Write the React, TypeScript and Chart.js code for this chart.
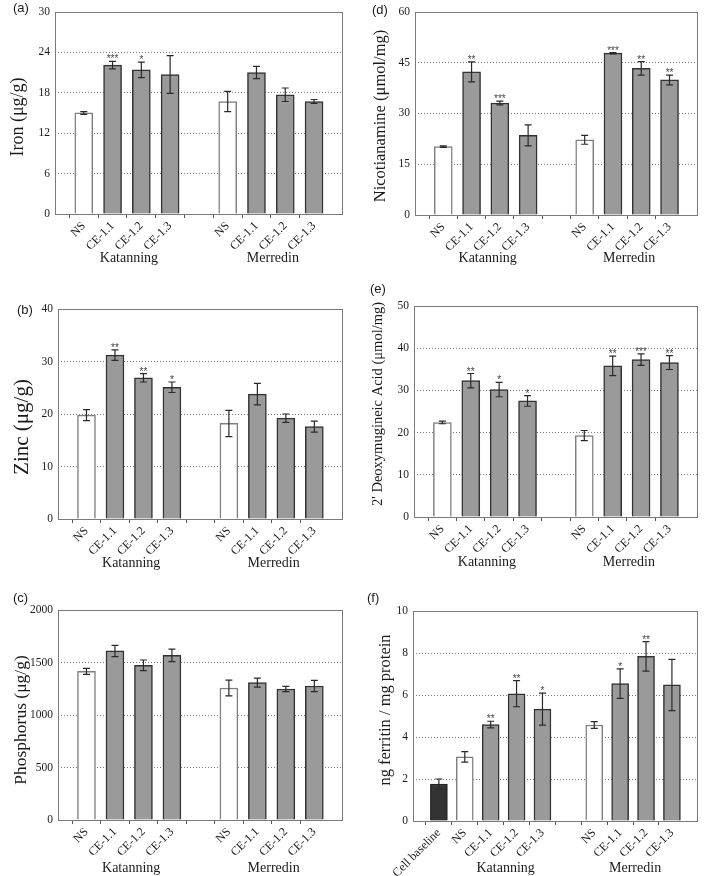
import React, { useEffect, useRef } from "react";
import { Chart, registerables } from "chart.js";

Chart.register(...registerables);

// ---------- data ----------
const treatments = ["NS", "CE-1.1", "CE-1.2", "CE-1.3"];
const sites = ["Katanning", "Merredin"];

const ironMeans = [15.0, 22.1, 21.4, 20.7, 16.7, 21.0, 17.7, 16.7];
const ironErrors = [0.2, 0.55, 1.15, 2.8, 1.5, 0.9, 1.0, 0.3];
const ironStars = ["", "***", "*", "", "", "", "", ""];

const zincMeans = [19.8, 31.2, 26.9, 25.1, 18.2, 23.8, 19.2, 17.6];
const zincErrors = [1.05, 1.0, 0.8, 1.0, 2.5, 2.05, 0.8, 1.05];
const zincStars = ["", "**", "**", "*", "", "", "", ""];

const phosMeans = [1416, 1610, 1473, 1568, 1257, 1308, 1248, 1276];
const phosErrors = [29, 54, 51, 60, 75, 43, 25, 54];
const phosStars = ["", "", "", "", "", "", "", ""];

const naMeans = [20.2, 42.3, 33.1, 23.5, 22.2, 47.8, 43.3, 39.9];
const naErrors = [0.25, 2.95, 0.55, 3.1, 1.3, 0.2, 2.0, 1.45];
const naStars = ["", "**", "***", "", "", "***", "**", "**"];

const dmaMeans = [22.4, 32.3, 30.2, 27.5, 19.3, 35.8, 37.3, 36.6];
const dmaErrors = [0.3, 1.7, 1.7, 1.25, 1.2, 2.3, 1.35, 1.65];
const dmaStars = ["", "**", "*", "*", "", "**", "***", "**"];

const ferritinBaselineLabel = "Cell baseline";
const ferritinBaselineMean = 1.76;
const ferritinBaselineError = 0.24;
const ferritinMeans = [3.05, 4.59, 6.06, 5.33, 4.57, 6.54, 7.84, 6.48];
const ferritinErrors = [0.25, 0.16, 0.62, 0.76, 0.16, 0.7, 0.7, 1.22];
const ferritinStars = ["", "**", "**", "*", "", "*", "**", ""];

// ---------- styling ----------
const SERIF = "'Liberation Serif', 'Times New Roman', serif";
const SANS = "'Liberation Sans', Arial, sans-serif";
const WHITE_FILL = "#ffffff";
const WHITE_EDGE = "#808080";
const GREY_FILL = "#9a9a9a";
const GREY_EDGE = "#333333";
const DARK_FILL = "#333333";
const DARK_EDGE = "#222222";

type PanelCfg = {
  letter: string;
  letterX: number;
  letterY: number;
  left: number;
  top: number;
  width: number;
  height: number;
  padTop: number;
  padRight: number;
  yWidth: number;
  xHeight: number;
  title: string;
  titleSize: number;
  titleX: number;
  titleY: number;
  yMax: number;
  yStep: number;
  means: number[];
  errors: number[];
  stars: string[];
  baseline?: { label: string; mean: number; error: number };
  groupDy: number;
  barW: number;
};

const panels: PanelCfg[] = [
  {
    letter: "(a)", letterX: 13, letterY: 1,
    left: 0, top: 0, width: 354, height: 290,
    padTop: 4, padRight: 4, yWidth: 55, xHeight: 76,
    title: "Iron (μg/g)", titleSize: 18, titleX: 18, titleY: 117,
    yMax: 30, yStep: 6,
    means: ironMeans, errors: ironErrors, stars: ironStars,
    groupDy: 44, barW: 18,
  },
  {
    letter: "(d)", letterX: 372, letterY: 3,
    left: 354, top: 0, width: 355, height: 290,
    padTop: 5, padRight: 2, yWidth: 61, xHeight: 75,
    title: "Nicotianamine (μmol/mg)", titleSize: 16.5, titleX: 27, titleY: 116,
    yMax: 60, yStep: 15,
    means: naMeans, errors: naErrors, stars: naStars,
    groupDy: 43, barW: 18,
  },
  {
    letter: "(b)", letterX: 17, letterY: 303,
    left: 0, top: 290, width: 354, height: 290,
    padTop: 19, padRight: 4, yWidth: 58, xHeight: 61,
    title: "Zinc (μg/g)", titleSize: 21, titleX: 22, titleY: 137,
    yMax: 40, yStep: 10,
    means: zincMeans, errors: zincErrors, stars: zincStars,
    groupDy: 44, barW: 18,
  },
  {
    letter: "(e)", letterX: 370, letterY: 282,
    left: 354, top: 290, width: 355, height: 290,
    padTop: 16, padRight: 2, yWidth: 60, xHeight: 63,
    title: "2' Deoxymugineic Acid (μmol/mg)", titleSize: 14.5, titleX: 24, titleY: 114,
    yMax: 50, yStep: 10,
    means: dmaMeans, errors: dmaErrors, stars: dmaStars,
    groupDy: 45, barW: 18,
  },
  {
    letter: "(c)", letterX: 13, letterY: 591,
    left: 0, top: 580, width: 354, height: 296,
    padTop: 30, padRight: 4, yWidth: 58, xHeight: 56,
    title: "Phosphorus (μg/g)", titleSize: 17.5, titleX: 21, titleY: 140,
    yMax: 2000, yStep: 500,
    means: phosMeans, errors: phosErrors, stars: phosStars,
    groupDy: 48, barW: 18,
  },
  {
    letter: "(f)", letterX: 367, letterY: 591,
    left: 354, top: 580, width: 355, height: 296,
    padTop: 31, padRight: 3, yWidth: 59, xHeight: 55,
    title: "ng ferritin / mg protein", titleSize: 16.5, titleX: 32, titleY: 130,
    yMax: 10, yStep: 2,
    means: ferritinMeans, errors: ferritinErrors, stars: ferritinStars,
    baseline: { label: ferritinBaselineLabel, mean: ferritinBaselineMean, error: ferritinBaselineError },
    groupDy: 47, barW: 17,
  },
];

function Panel({ cfg }: { cfg: PanelCfg }) {
  const ref = useRef<HTMLCanvasElement | null>(null);

  useEffect(() => {
    const canvas = ref.current;
    if (!canvas) return;

    // Build slot layout: blank, [baseline], group1, blank, group2, blank
    const labels: string[] = [""];
    const values: (number | null)[] = [null];
    const errs: number[] = [0];
    const stars: string[] = [""];
    const fills: string[] = ["transparent"];
    const edges: string[] = ["transparent"];
    if (cfg.baseline) {
      labels.push(cfg.baseline.label);
      values.push(cfg.baseline.mean);
      errs.push(cfg.baseline.error);
      stars.push("");
      fills.push(DARK_FILL);
      edges.push(DARK_EDGE);
    }
    const groupRanges: [number, number][] = [];
    sites.forEach((site, g) => {
      const start = labels.length;
      treatments.forEach((t, k) => {
        const idx = g * treatments.length + k;
        labels.push(t);
        values.push(cfg.means[idx]);
        errs.push(cfg.errors[idx]);
        stars.push(cfg.stars[idx]);
        const isNS = k === 0;
        fills.push(isNS ? WHITE_FILL : GREY_FILL);
        edges.push(isNS ? WHITE_EDGE : GREY_EDGE);
      });
      groupRanges.push([start, labels.length - 1]);
      labels.push("");
      values.push(null);
      errs.push(0);
      stars.push("");
      fills.push("transparent");
      edges.push("transparent");
    });
    const lastIdx = labels.length - 1;

    const overlay = {
      id: "overlay",
      afterDatasetsDraw(chart: any) {
        const { ctx, chartArea } = chart;
        const x = chart.scales.x;
        const y = chart.scales.y;
        ctx.save();
        // frame
        ctx.strokeStyle = "#7a7a7a";
        ctx.lineWidth = 1;
        ctx.setLineDash([]);
        ctx.strokeRect(
          Math.round(chartArea.left) + 0.5,
          Math.round(chartArea.top) + 0.5,
          Math.round(chartArea.width) - 1,
          Math.round(chartArea.height)
        );
        // error bars and significance
        values.forEach((v, i) => {
          if (v == null) return;
          const e = errs[i];
          const xp = x.getPixelForValue(i);
          const yt = y.getPixelForValue(v + e);
          const yb = y.getPixelForValue(v - e);
          ctx.strokeStyle = "#2a2a2a";
          ctx.lineWidth = 1.2;
          ctx.beginPath();
          ctx.moveTo(xp, yt);
          ctx.lineTo(xp, yb);
          ctx.moveTo(xp - 3.5, yt);
          ctx.lineTo(xp + 3.5, yt);
          ctx.moveTo(xp - 3.5, yb);
          ctx.lineTo(xp + 3.5, yb);
          ctx.stroke();
          if (stars[i]) {
            ctx.fillStyle = "#444";
            ctx.font = `10px ${SANS}`;
            ctx.textAlign = "center";
            ctx.textBaseline = "alphabetic";
            ctx.fillText(stars[i], xp, yt + 1);
          }
        });
        // group labels
        ctx.fillStyle = "#1a1a1a";
        ctx.font = `14px ${SERIF}`;
        ctx.textAlign = "center";
        ctx.textBaseline = "middle";
        groupRanges.forEach(([a, b], g) => {
          const cx = (x.getPixelForValue(a) + x.getPixelForValue(b)) / 2 + 2;
          ctx.fillText(sites[g], cx, chartArea.bottom + cfg.groupDy);
        });
        // y axis title
        ctx.save();
        ctx.translate(cfg.titleX, cfg.titleY);
        ctx.rotate(-Math.PI / 2);
        ctx.font = `${cfg.titleSize}px ${SERIF}`;
        ctx.textAlign = "center";
        ctx.textBaseline = "middle";
        ctx.fillText(cfg.title, 0, 0);
        ctx.restore();
        ctx.restore();
      },
    };

    const chart = new Chart(canvas, {
      type: "bar",
      data: {
        labels,
        datasets: [
          {
            data: values,
            backgroundColor: fills,
            borderColor: edges,
            borderWidth: 1.5,
            barThickness: cfg.barW,
          },
        ],
      },
      options: {
        animation: false,
        responsive: false,
        maintainAspectRatio: false,
        layout: { padding: { top: cfg.padTop, right: cfg.padRight, left: 0, bottom: 0 } },
        plugins: { legend: { display: false }, tooltip: { enabled: false } },
        scales: {
          x: {
            type: "category",
            offset: false,
            afterFit(scale: any) {
              scale.height = cfg.xHeight;
            },
            grid: {
              drawOnChartArea: false,
              drawTicks: true,
              tickLength: 4,
              tickColor: (ctx: any) =>
                ctx.index === 0 || ctx.index === lastIdx ? "rgba(0,0,0,0)" : "#555",
            },
            border: { display: false },
            ticks: {
              autoSkip: false,
              minRotation: 45,
              maxRotation: 45,
              padding: 1,
              color: "#1a1a1a",
              font: { family: SERIF, size: 12 },
            },
          },
          y: {
            min: 0,
            max: cfg.yMax,
            afterFit(scale: any) {
              scale.width = cfg.yWidth;
            },
            grid: {
              drawTicks: false,
              color: (ctx: any) =>
                ctx.tick && (ctx.tick.value === 0 || ctx.tick.value === cfg.yMax)
                  ? "rgba(0,0,0,0)"
                  : "#7c7c7c",
              lineWidth: 1,
            },
            border: { display: false, dash: [1, 2] },
            ticks: {
              stepSize: cfg.yStep,
              padding: 5,
              color: "#1a1a1a",
              font: { family: SERIF, size: 11.5 },
              callback: (v: any) => String(v),
            },
            title: { display: false },
          },
        },
      },
      plugins: [overlay],
    });

    return () => chart.destroy();
  }, [cfg]);

  return (
    <canvas
      ref={ref}
      width={cfg.width}
      height={cfg.height}
      style={{
        position: "absolute",
        left: cfg.left,
        top: cfg.top,
        width: cfg.width,
        height: cfg.height,
      }}
    />
  );
}

export default function App() {
  return (
    <div
      style={{
        position: "absolute",
        left: 0,
        top: 0,
        width: 709,
        height: 876,
        background: "#ffffff",
        overflow: "hidden",
      }}
    >
      {panels.map((p) => (
        <Panel key={p.letter} cfg={p} />
      ))}
      {panels.map((p) => (
        <div
          key={"l" + p.letter}
          style={{
            position: "absolute",
            left: p.letterX,
            top: p.letterY,
            fontFamily: SANS,
            fontSize: 13,
            lineHeight: "13px",
            color: "#1a1a1a",
            zIndex: 2,
            background: "transparent",
          }}
        >
          {p.letter}
        </div>
      ))}
    </div>
  );
}
